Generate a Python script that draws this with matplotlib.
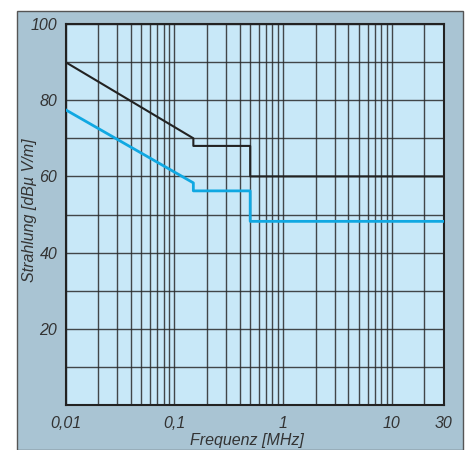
import numpy as np
import matplotlib.pyplot as plt
from matplotlib.patches import Rectangle
from matplotlib.ticker import FixedLocator, NullFormatter, LogLocator

# Limit curves (frequency in MHz, level in dBuV/m)
freq_black = [0.01, 0.15, 0.15, 0.5, 0.5, 30]
level_black = [90, 70, 68, 68, 60, 60]
freq_blue = [0.01, 0.15, 0.15, 0.5, 0.5, 30]
level_blue = [77.5, 58.3, 56.2, 56.2, 48.2, 48.2]

xtick_vals = [0.01, 0.1, 1, 10, 30]
xtick_labels = ["0,01", "0,1", "1", "10", "30"]
ytick_vals = [20, 40, 60, 80, 100]

plt.rcParams['font.family'] = ['Liberation Sans', 'DejaVu Sans']

fig = plt.figure(figsize=(4.67, 4.5), dpi=100)
W, H = 467, 450

# light blue panel with grey frame
panel = Rectangle((17 / W, 0), (463 - 17) / W, (450 - 11) / H, transform=fig.transFigure,
                  facecolor='#a9c4d3', edgecolor='#555555', linewidth=1.0, zorder=-1)
fig.patches.append(panel)

ax = fig.add_axes([65.5 / W, 1 - 405 / H, (443.5 - 65.5) / W, (405 - 24) / H])
ax.set_zorder(1)
ax.set_facecolor('#c8e8f8')
ax.set_xscale('log')
ax.set_xlim(0.01, 30)
ax.set_ylim(0, 100)

ax.plot(freq_black, level_black, color='#222222', lw=1.5, zorder=3)
ax.plot(freq_blue, level_blue, color='#10a8e2', lw=2.0, zorder=3)

ax.xaxis.set_major_locator(FixedLocator(xtick_vals))
ax.set_xticklabels(xtick_labels)
ax.xaxis.set_minor_locator(LogLocator(base=10, subs=np.arange(2, 10), numticks=20))
ax.xaxis.set_minor_formatter(NullFormatter())
ax.set_yticks(ytick_vals)
ax.set_yticks(np.arange(10, 100, 10), minor=True)

ax.grid(True, which='both', color='#2a2a2a', lw=1.0, alpha=0.85)
ax.tick_params(which='both', length=0)
ax.tick_params(axis='x', pad=8)
ax.tick_params(axis='y', pad=6)
for lab in ax.get_xticklabels() + ax.get_yticklabels():
    lab.set_fontsize(11.5)
    lab.set_fontstyle('italic')
    lab.set_color('#333333')

for s in ax.spines.values():
    s.set_color('#222222')
    s.set_linewidth(1.5)

fig.text(247 / W, 1 - 440 / H, "Frequenz [MHz]", ha='center', va='center',
         fontsize=11.5, style='italic', color='#333333')
fig.text(30 / W, 1 - 210 / H, "Strahlung [dBµ V/m]", ha='center', va='center',
         rotation=90, fontsize=11.5, style='italic', color='#333333')

fig.savefig('out.png', dpi=100)
